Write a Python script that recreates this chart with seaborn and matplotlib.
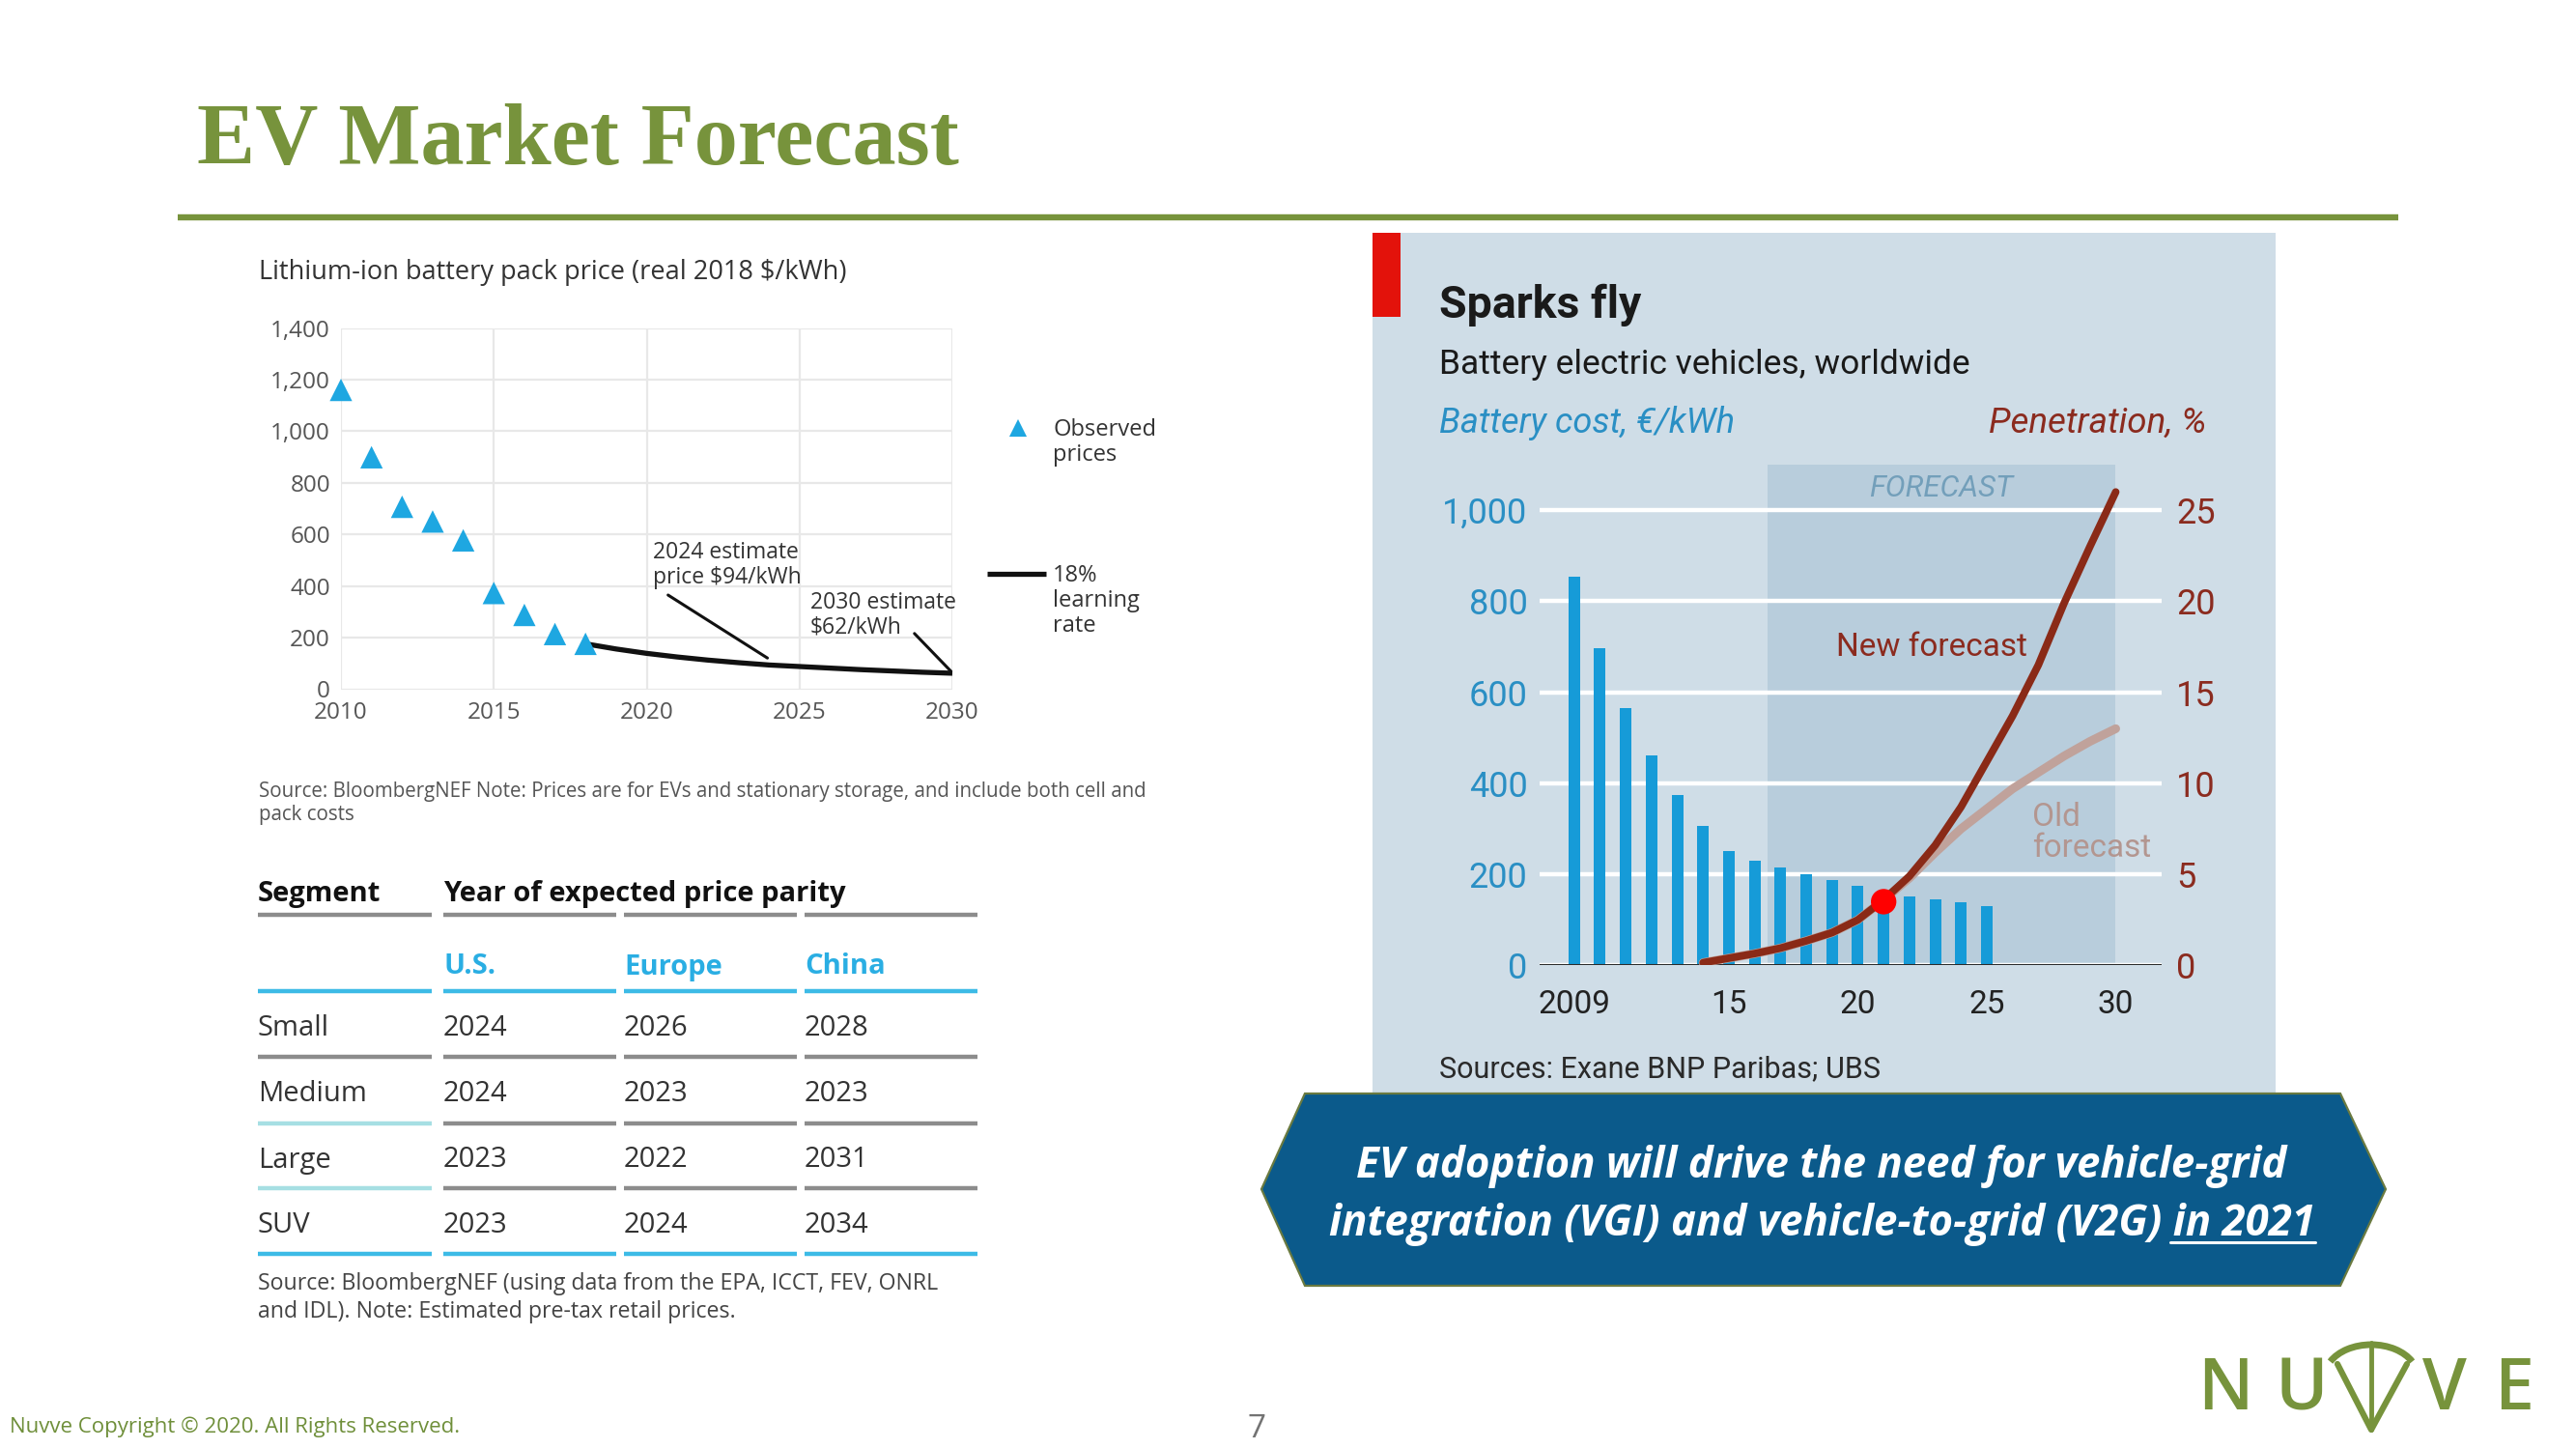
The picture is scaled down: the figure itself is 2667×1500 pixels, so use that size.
import numpy as np
import pandas as pd
import matplotlib
matplotlib.use("Agg")
import matplotlib.pyplot as plt
import seaborn as sns
from matplotlib.patches import Polygon, Rectangle, Arc

# ---------------- data ----------------
obs_years = [2010, 2011, 2012, 2013, 2014, 2015, 2016, 2017, 2018]
obs_prices = [1160, 899, 707, 650, 577, 373, 288, 214, 176]
learn_years = [2018, 2019, 2020, 2021, 2022, 2023, 2024, 2025, 2026, 2027, 2028, 2029, 2030]
learn_prices = [176, 156, 139, 125, 113, 103, 94, 88, 82, 76, 71, 66, 62]
price_yticks = [0, 200, 400, 600, 800, 1000, 1200, 1400]
price_xticks = [2010, 2015, 2020, 2025, 2030]

segments = ["Small", "Medium", "Large", "SUV"]
regions = ["U.S.", "Europe", "China"]
parity_us = [2024, 2024, 2023, 2023]
parity_europe = [2026, 2023, 2022, 2024]
parity_china = [2028, 2023, 2031, 2034]

cost_years = list(range(2009, 2026))
cost_values = [853, 696, 565, 461, 375, 306, 251, 230, 216, 200, 187, 174, 160, 152, 145, 138, 131]
pen_years = list(range(2014, 2031))
pen_new = [0.15, 0.4, 0.65, 0.95, 1.35, 1.8, 2.5, 3.6, 4.9, 6.6, 8.7, 11.2, 13.7, 16.5, 19.9, 23.0, 26.0]
pen_old = [0.15, 0.4, 0.65, 0.95, 1.35, 1.8, 2.5, 3.6, 4.8, 6.2, 7.5, 8.6, 9.7, 10.6, 11.5, 12.3, 13.0]
today_year = [2021]
today_pen = [3.5]
cost_ticks = [0, 200, 400, 600, 800, 1000]
pen_ticks = [0, 5, 10, 15, 20, 25]
year_major = [2010, 2015, 2020, 2025, 2030]
year_major_labels = ["", "15", "20", "25", "30"]
forecast_span = (2016.5, 2030)

# ---------------- style ----------------
sns.set_style("white")
plt.rcParams['font.family'] = ['Open Sans', 'DejaVu Sans']
GREEN = '#77933c'
CYAN = '#1ea7e1'
BAR = '#169bd8'
BAND = '#b8cddc'
PANEL = '#cfdde7'
COSTC = '#2a8fc4'
PENC = '#8b2b1f'
NEWC = '#8a2a17'
OLDC = '#c0a29b'

W, H = 2667, 1500
fig = plt.figure(figsize=(W / 100, H / 100), dpi=100)
fig.patch.set_facecolor('white')
bg = fig.add_axes([0, 0, 1, 1])
bg.set_xlim(0, W)
bg.set_ylim(H, 0)
bg.axis('off')


def P(x, y, w, h):
    return [x / W, 1 - (y + h) / H, w / W, h / H]


# ---------------- title ----------------
bg.text(204, 170, "EV Market Forecast", family=['Liberation Serif'], weight='bold',
        size=65, color=GREEN, va='baseline', ha='left')
bg.plot([184, 2483], [225, 225], color=GREEN, lw=4.6, solid_capstyle='butt')

# ---------------- left chart ----------------
bg.text(268, 282, "Lithium-ion battery pack price (real 2018 $/kWh)", size=19.5,
        color='#333333', va='center', ha='left')
ax1 = fig.add_axes(P(353, 339.5, 633, 374))
ax1.set_facecolor('white')
sns.lineplot(x=learn_years, y=learn_prices, color='#111111', lw=3.8, ax=ax1,
             clip_on=False, zorder=3, solid_capstyle='butt')
sns.scatterplot(x=obs_years, y=obs_prices, marker='^', s=280, color=CYAN,
                edgecolor='none', ax=ax1, clip_on=False, zorder=4)
ax1.set_xlim(2010, 2030)
ax1.set_ylim(0, 1400)
ax1.set_xticks(price_xticks, labels=[str(v) for v in price_xticks])
ax1.set_yticks(price_yticks, labels=[f"{v:,}" for v in price_yticks])
ax1.grid(True, color='#e8e8e8', lw=1.6)
ax1.set_axisbelow(True)
ax1.tick_params(axis='both', length=0, labelsize=17.5, labelcolor='#555555')
ax1.tick_params(axis='y', pad=8)
ax1.tick_params(axis='x', pad=9)
for s in ax1.spines.values():
    s.set_visible(False)
ax1.set_xlabel('')
ax1.set_ylabel('')

ax1.text(2020.2, 575, "2024 estimate\nprice $94/kWh", va='top', ha='left', size=16.5,
         color='#333333', linespacing=1.1)
ax1.plot([2020.7, 2023.95], [365, 121], color='#111111', lw=2.2)
ax1.text(2025.35, 380, "2030 estimate\n$62/kWh", va='top', ha='left', size=16.5,
         color='#333333', linespacing=1.1)
ax1.plot([2028.76, 2030], [216, 64], color='#111111', lw=2.2)

# legend (manual)
bg.scatter([1054], [443], marker='^', s=170, color=CYAN, edgecolor='none')
bg.text(1090, 458, "Observed\nprices", va='center', ha='left', size=17, color='#333333',
        linespacing=1.1)
bg.plot([1022, 1083], [594, 594], color='#111111', lw=3.8, solid_capstyle='butt')
bg.text(1090, 622, "18%\nlearning\nrate", va='center', ha='left', size=17, color='#333333',
        linespacing=1.1)

bg.text(268, 819, "Source: BloombergNEF Note: Prices are for EVs and stationary storage, and include both cell and",
        size=14.8, color='#555555', va='center', ha='left')
bg.text(268, 844, "pack costs", size=14.8, color='#555555', va='center', ha='left')

# ---------------- table ----------------
col_x = [267, 459, 646, 833]
col_end = [447, 638, 825, 1012]
TS = 21
bg.text(col_x[0], 925, "Segment", weight='bold', size=TS, color='#111111', va='center')
bg.text(col_x[1], 925, "Year of expected price parity", weight='bold', size=TS,
        color='#111111', va='center')
for i, reg in enumerate(regions):
    bg.text(col_x[i + 1], 1001, reg, weight='bold', size=TS, color='#2aaee3', va='center')
row_y = [1065, 1133, 1201, 1269]
for r, seg in enumerate(segments):
    vals = [parity_us[r], parity_europe[r], parity_china[r]]
    bg.text(col_x[0], row_y[r], seg, size=TS, color='#333333', va='center')
    for c, v in enumerate(vals):
        bg.text(col_x[c + 1], row_y[r], str(v), size=TS, color='#333333', va='center')

line_rows = [947, 1026, 1094, 1163, 1230, 1298]
line_cols = ['#8c8c8c', '#3dbbe6', '#8c8c8c', '#8c8c8c', '#8c8c8c', '#3dbbe6']
for ly, lc in zip(line_rows, line_cols):
    for j, (x0, x1) in enumerate(zip(col_x, col_end)):
        c = lc
        if ly in (1163, 1230) and j == 0:
            c = '#a6dfe3'
        bg.plot([x0, x1], [ly, ly], color=c, lw=3.2, solid_capstyle='butt')

bg.text(267, 1329, "Source: BloombergNEF (using data from the EPA, ICCT, FEV, ONRL",
        size=16.7, color='#444444', va='center')
bg.text(267, 1358, "and IDL). Note: Estimated pre-tax retail prices.",
        size=16.7, color='#444444', va='center')

# ---------------- right chart panel ----------------
bg.add_patch(Rectangle((1421, 241), 935, 890, facecolor=PANEL, edgecolor='none'))
bg.add_patch(Rectangle((1421, 241), 29, 87, facecolor='#e3120b', edgecolor='none'))
RF = ['Roboto', 'DejaVu Sans']
bg.text(1490, 329, "Sparks fly", family=RF, weight='bold', size=33.5, color='#1a1a1a',
        va='baseline', ha='left')
bg.text(1490, 387, "Battery electric vehicles, worldwide", family=RF, size=25.5,
        color='#1a1a1a', va='baseline', ha='left')
bg.text(1490, 448, "Battery cost, €/kWh", family=RF, style='italic', size=26,
        color=COSTC, va='baseline', ha='left')
bg.text(2284, 448, "Penetration, %", family=RF, style='italic', size=26.5,
        color=PENC, va='baseline', ha='right')
bg.text(1490, 1115, "Sources: Exane BNP Paribas; UBS", family=RF, size=22,
        color='#2a2a2a', va='baseline', ha='left')

ax = fig.add_axes(P(1594, 481, 644, 518.4))
ax.set_facecolor('none')
ax.axvspan(*forecast_span, color=BAND, zorder=0, lw=0)
sns.barplot(x=cost_years, y=cost_values, native_scale=True, width=0.45, color=BAR,
            saturation=1, ax=ax, zorder=2, linewidth=0)
ax.set_xlim(2007.66, 2031.78)
ax.set_ylim(0, 1100)
ax.set_yticks(cost_ticks, labels=[f"{v:,}" for v in cost_ticks], fontfamily='Roboto')
ax.grid(axis='y', color='white', lw=3.2)
ax.grid(axis='x', visible=False)
ax.set_axisbelow(True)
ax.axhline(0, color='#2b2b2b', lw=2.2, zorder=3)
minor_years = [y for y in range(2009, 2031) if y not in year_major]
minor_labels = ["2009" if y == 2009 else "" for y in minor_years]
ax.set_xticks(year_major, labels=year_major_labels, fontfamily='Roboto')
ax.set_xticks(minor_years, labels=minor_labels, minor=True, fontfamily='Roboto')
ax.tick_params(axis='y', length=0, pad=9, labelsize=26, labelcolor=COSTC)
ax.tick_params(axis='x', which='major', length=9, width=1.6, color='#333333', pad=9,
               labelsize=24, labelcolor='#222222', direction='out')
ax.tick_params(axis='x', which='minor', length=3.5, width=1.6, color='#333333', pad=14.5,
               labelsize=24, labelcolor='#222222', direction='out')
for s in ax.spines.values():
    s.set_visible(False)
ax.set_xlabel('')
ax.set_ylabel('')

ax2 = ax.twinx()
sns.lineplot(x=pen_years, y=pen_old, color=OLDC, lw=6.5, ax=ax2, solid_capstyle='round')
sns.lineplot(x=pen_years, y=pen_new, color=NEWC, lw=5.6, ax=ax2, solid_capstyle='round')
sns.scatterplot(x=today_year, y=today_pen, color='#ff0000', s=360, ax=ax2, zorder=5,
                edgecolor='none')
ax2.set_ylim(0, 27.5)
ax2.set_xlim(2007.66, 2031.78)
ax2.set_yticks(pen_ticks, labels=[str(v) for v in pen_ticks], fontfamily='Roboto')
ax2.tick_params(axis='y', length=0, pad=11, labelsize=26, labelcolor=PENC)
for s in ax2.spines.values():
    s.set_visible(False)
ax2.set_xlabel('')
ax2.set_ylabel('')

# overlay for text drawn above the chart axes
top = fig.add_axes([0, 0, 1, 1])
top.set_xlim(0, W)
top.set_ylim(H, 0)
top.axis('off')
top.text(2010, 505, "FORECAST", family=RF, style='italic', size=22.5, color='#739fba',
         va='center', ha='center')
top.text(2000, 670, "New forecast", family=RF, size=24, color=PENC, va='center', ha='center')
top.text(2104, 862, "Old\nforecast", family=RF, size=24, color='#b39690', va='center',
         ha='left', linespacing=1.0)

# ---------------- banner ----------------
top.add_patch(Polygon([(1306, 1231), (1351, 1132), (2423, 1132), (2470, 1231),
                       (2423, 1331), (1351, 1331)], closed=True,
                      facecolor='#0b5a8b', edgecolor='#6a7a40', lw=1.6))
BF = ['Open Sans', 'DejaVu Sans']
BS = 31.5
top.text(1886, 1219, "EV adoption will drive the need for vehicle-grid", family=BF,
         weight='bold', style='italic', size=BS, color='white', ha='center', va='baseline')
t2 = top.text(1886, 1279, "integration (VGI) and vehicle-to-grid (V2G) in 2021", family=BF,
              weight='bold', style='italic', size=BS, color='white', ha='center',
              va='baseline')

# ---------------- footer ----------------
top.text(10, 1477, "Nuvve Copyright © 2020. All Rights Reserved.", size=16,
         color='#6f8f3a', va='center', ha='left')
top.text(1301, 1480, "7", size=24, color='#737373', va='center', ha='center')
for ch, xx in zip(["N", "U", "V", "E"], [2304, 2383, 2531, 2603]):
    top.text(xx, 1440, ch, size=53, weight='semibold', color=GREEN, va='center', ha='center')
top.plot([2420, 2455, 2492], [1412, 1480, 1412], color=GREEN, lw=4.5)
top.plot([2455, 2455], [1390, 1480], color=GREEN, lw=3.5)
top.add_patch(Arc((2455, 1425), 96, 66, theta1=200, theta2=340, color=GREEN, lw=5))

# underline "in 2021"
fig.canvas.draw()
rend = fig.canvas.get_renderer()
bb = t2.get_window_extent(rend)
tmp = top.text(0, 0, "in 2021", family=BF, weight='bold', style='italic', size=BS)
wtmp = tmp.get_window_extent(rend).width
tmp.remove()
inv = top.transData.inverted()
ux0, uy = inv.transform((bb.x1 - wtmp, bb.y0 + 0.1 * bb.height))
ux1, _ = inv.transform((bb.x1, bb.y0))
top.plot([ux0 - 2, ux1], [uy, uy], color='white', lw=2.2)

fig.savefig('out.png', dpi=100, facecolor='white')
